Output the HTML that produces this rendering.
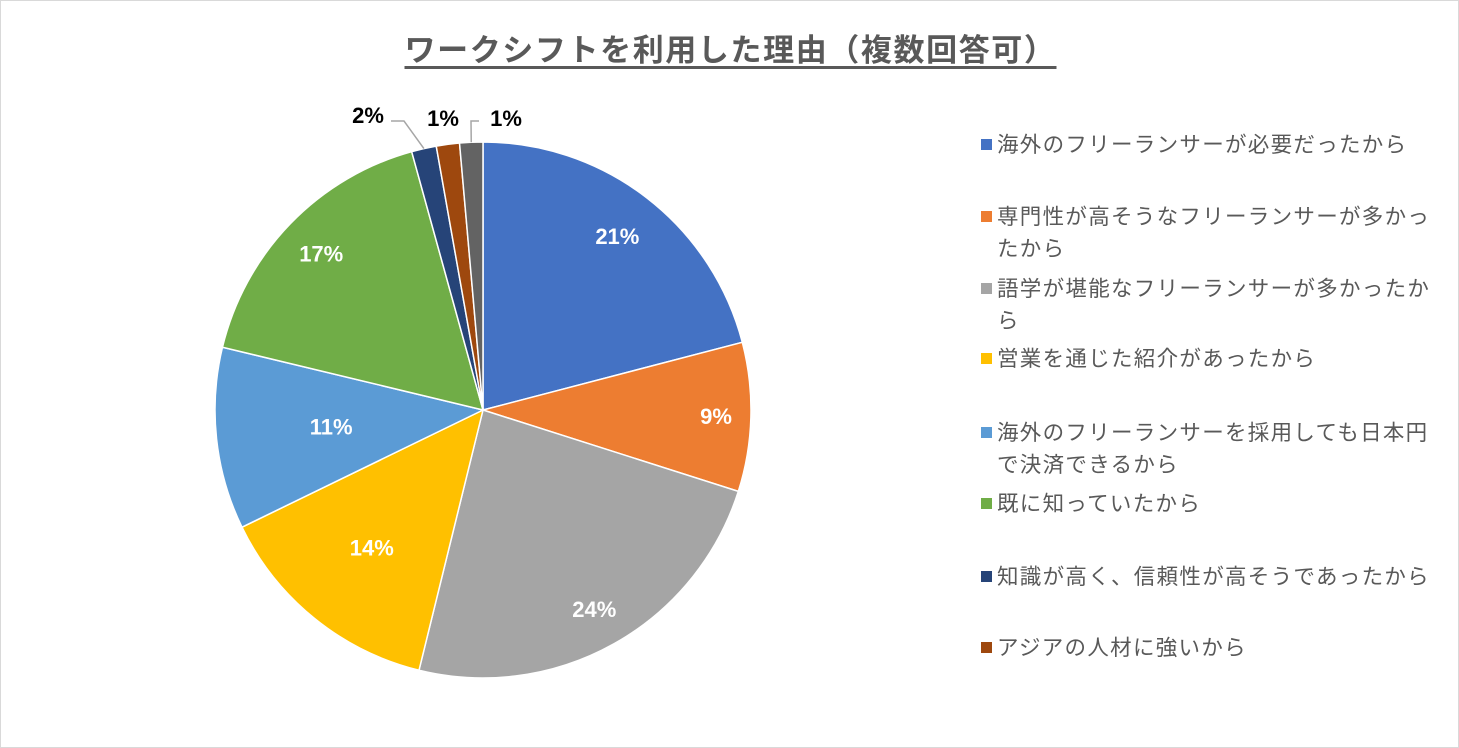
<!DOCTYPE html>
<html><head><meta charset="utf-8"><style>
body{margin:0;background:#fff;}
#wrap{position:relative;width:1457px;height:746px;border:1px solid #d9d9d9;background:#fff;font-family:"Liberation Sans","Noto Sans CJK JP",sans-serif;overflow:hidden;}
#title{position:absolute;left:0;width:1459px;top:24px;text-align:center;font-size:31px;font-weight:bold;color:#595959;letter-spacing:1.6px;}
#title span{text-decoration:underline;text-underline-offset:5px;}
.leg{position:absolute;left:980px;font-size:21.5px;color:#595959;line-height:32px;width:476px;letter-spacing:1.3px;white-space:nowrap;}
.leg i{position:absolute;left:0;top:10px;width:11px;height:11px;}
.leg span{display:block;padding-left:16px;}
</style></head><body>
<div id="wrap">
<div id="title"><span>ワークシフトを利用した理由（複数回答可）</span></div>
<svg id="pie" width="1459" height="748" style="position:absolute;left:0;top:0"></svg>
<div id="legend"></div>
</div>
<script>
const categories=["海外のフリーランサーが必要だったから","専門性が高そうなフリーランサーが多かったから","語学が堪能なフリーランサーが多かったから","営業を通じた紹介があったから","海外のフリーランサーを採用しても日本円で決済できるから","既に知っていたから","知識が高く、信頼性が高そうであったから","アジアの人材に強いから","その他"];
const values=[21,9,24,14,11,17,1.5,1.4,1.4];
const labels=["21%","9%","24%","14%","11%","17%","2%","1%","1%"];
const colors=["#4472c4","#ed7d31","#a5a5a5","#ffc000","#5b9bd5","#70ad47","#264478","#9e480e","#636363"];
const labelRadius=[0.82,0.87,0.85,0.66,0.57,0.84];
const cx=482,cy=409,r=268;
const svg=document.getElementById('pie');
const NS='http://www.w3.org/2000/svg';
const total=values.reduce((a,b)=>a+b,0);
function pt(a,rr){return [cx+rr*Math.sin(a),cy-rr*Math.cos(a)];}
let acc=0;
values.forEach((v,i)=>{
  const a0=acc/total*2*Math.PI;acc+=v;const a1=acc/total*2*Math.PI;
  const p0=pt(a0,r),p1=pt(a1,r);
  const large=(a1-a0)>Math.PI?1:0;
  const p=document.createElementNS(NS,'path');
  p.setAttribute('d',`M${cx},${cy}L${p0[0]},${p0[1]}A${r},${r} 0 ${large} 1 ${p1[0]},${p1[1]}Z`);
  p.setAttribute('fill',colors[i]);p.setAttribute('stroke','#fff');p.setAttribute('stroke-width','1.5');
  
  
  svg.appendChild(p);
  const am=(a0+a1)/2;
  const t=document.createElementNS(NS,'text');
  let lp;
  if(v>=5){lp=pt(am,r*(labelRadius[i]||0.8));t.setAttribute('fill','#fff');}
  else{
    const outs=[[367,114],[442,117],[505,117]];
    lp=outs[i-6];t.setAttribute('fill','#000');
    const e=pt(am,r);
    if(i!==7){
      const l=document.createElementNS(NS,'polyline');
      l.setAttribute('points',i===6?`390,120 403,120 ${e[0]},${e[1]}`:`478,120 470,120 ${e[0]},${e[1]}`);
      l.setAttribute('fill','none');l.setAttribute('stroke','#a6a6a6');l.setAttribute('stroke-width','1.5');
      
      
      svg.appendChild(l);
    }
  }
  t.setAttribute('x',lp[0]);t.setAttribute('y',lp[1]+8);
  t.setAttribute('text-anchor','middle');t.setAttribute('font-size','22');t.setAttribute('font-weight','bold');
  t.setAttribute('font-family','"Liberation Sans",sans-serif');
  t.textContent=labels[i];
  
  
  svg.appendChild(t);
});
const legTops=[128,200,272,342,416,487,560,631];
const legTexts=["海外のフリーランサーが必要だったから","専門性が高そうなフリーランサーが多かっ<br>たから","語学が堪能なフリーランサーが多かったか<br>ら","営業を通じた紹介があったから","海外のフリーランサーを採用しても日本円<br>で決済できるから","既に知っていたから","知識が高く、信頼性が高そうであったから","アジアの人材に強いから"];
const lg=document.getElementById('legend');
legTops.forEach((y,i)=>{
  const d=document.createElement('div');d.className='leg';d.style.top=y+'px';
  d.innerHTML=`<i style="background:${colors[i]}"></i><span>${legTexts[i]}</span>`;
  
  
  lg.appendChild(d);
});
</script>
</body></html>
